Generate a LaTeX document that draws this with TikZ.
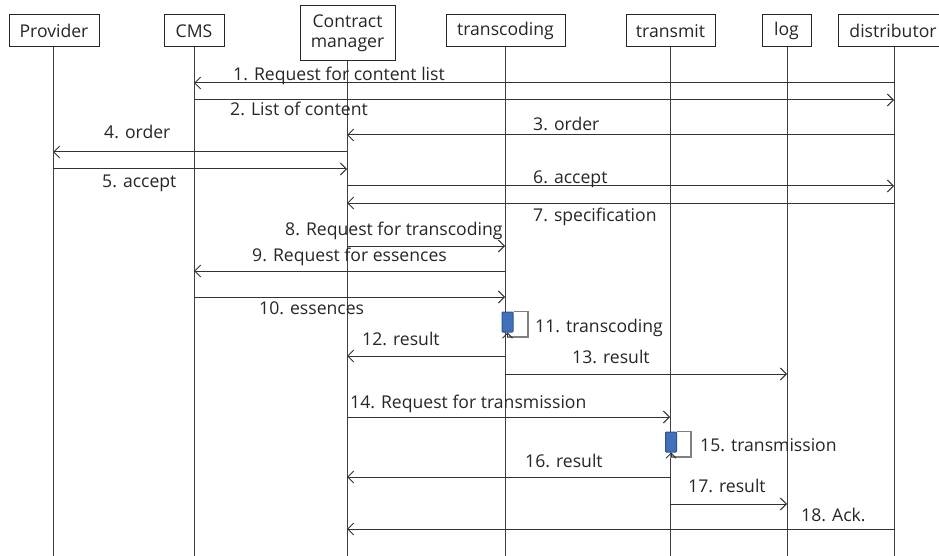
\documentclass[tikz,border=0pt]{standalone}
\usepackage{fontspec}
\setmainfont{Open Sans}
\usetikzlibrary{arrows.meta}
\begin{document}
\begin{tikzpicture}[x=1pt,y=-1pt,
  head/.style={draw=black!85, line width=1pt, fill=white, inner sep=0pt, font=\fontsize{17.6}{20}\selectfont, text=black!85},
  life/.style={line width=1pt, draw=black!75},
  msg/.style={line width=1pt, draw=black!80, -{Straight Barb[length=6pt,width=12pt,line width=1pt]}},
  lbl/.style={anchor=base west, inner sep=0pt, font=\fontsize{17.6}{20}\selectfont, text=black!85},
  actbox/.style={draw={rgb,255:red,47;green,82;blue,143}, fill={rgb,255:red,65;green,113;blue,187}, rounded corners=0.8pt, line width=1pt, inner sep=0pt, minimum width=11, minimum height=20},
  selfloop/.style={draw=black!50, line width=1.5pt},
  selftip/.style={-{Straight Barb[length=5pt,width=10pt,line width=1pt]}}
]
\useasboundingbox (0,0) rectangle (939,556);
\fill[white] (0,0) rectangle (939,556);

% lifeline heads
\node[head, minimum width=90, minimum height=32] (prov) at (54,31) {Provider};
\node[head, minimum width=60, minimum height=32] (cms) at (194,31) {CMS};
\node[head, minimum width=95, minimum height=55, align=center] (cm) at (347.5,33.5) {Contract\\manager};
\node[head, minimum width=119, minimum height=32] (trc) at (505.5,31) {transcoding};
\node[head, minimum width=89, minimum height=32] (trm) at (670.5,31) {transmit};
\node[head, minimum width=49, minimum height=32] (log) at (786.5,31) {log};
\node[head, minimum width=110, minimum height=32] (dist) at (893,31) {distributor};

% lifelines
\coordinate (xprov) at (53,0);
\coordinate (xcms) at (194,0);
\coordinate (xcm) at (347,0);
\coordinate (xtrc) at (505,0);
\coordinate (xtrm) at (670,0);
\coordinate (xlog) at (787,0);
\coordinate (xdist) at (894,0);
\draw[life] (xprov |- prov.south) -- (xprov |- 0,556);
\draw[life] (xcms |- cms.south) -- (xcms |- 0,556);
\draw[life] (xcm |- cm.south) -- (xcm |- 0,556);
\draw[life] (xtrc |- trc.south) -- (xtrc |- 0,556);
\draw[life] (xtrm |- trm.south) -- (xtrm |- 0,556);
\draw[life] (xlog |- log.south) -- (xlog |- 0,556);
\draw[life] (xdist |- dist.south) -- (xdist |- 0,556);

% messages
\draw[msg] (xdist |- 0,83) -- (xcms |- 0,83);
\node[lbl] (l1) at (233,81) {1. Request for content list};
\draw[msg] (xcms |- 0,100) -- (xdist |- 0,100);
\node[lbl] (l2) at (230,116) {2. List of content};
\draw[msg] (xdist |- 0,135) -- (xcm |- 0,135);
\node[lbl] (l3) at (533,131) {3. order};
\draw[msg] (xcm |- 0,152) -- (xprov |- 0,152);
\node[lbl] (l4) at (104,139) {4. order};
\draw[msg] (xprov |- 0,169) -- (xcm |- 0,169);
\node[lbl] (l5) at (102,188) {5. accept};
\draw[msg] (xcm |- 0,186) -- (xdist |- 0,186);
\node[lbl] (l6) at (533,183) {6. accept};
\draw[msg] (xdist |- 0,203) -- (xcm |- 0,203);
\node[lbl] (l7) at (533,222) {7. specification};
\draw[msg] (xcm |- 0,246) -- (xtrc |- 0,246);
\node[lbl] (l8) at (285,235) {8. Request for transcoding};
\draw[msg] (xtrc |- 0,271) -- (xcms |- 0,271);
\node[lbl] (l9) at (252,261) {9. Request for essences};
\draw[msg] (xcms |- 0,297) -- (xtrc |- 0,297);
\node[lbl] (l10) at (259,314) {10. essences};

% activation 11
\node[actbox] (a11) at (507.5,322) {};
\draw[selfloop] (a11.north east) -| (528,337) -| (a11.south);
\draw[selftip, line width=1pt, draw=black!80] (a11.south |- 0,337) -- (a11.south);
\node[lbl] (l11) at (535,332) {11. transcoding};

\draw[msg] (xtrc |- 0,356) -- (xcm |- 0,356);
\node[lbl] (l12) at (362,345) {12. result};
\draw[msg] (xtrc |- 0,374) -- (xlog |- 0,374);
\node[lbl] (l13) at (572,363) {13. result};
\draw[msg] (xcm |- 0,417) -- (xtrm |- 0,417);
\node[lbl] (l14) at (350,408) {14. Request for transmission};

% activation 15
\node[actbox] (a15) at (671,442) {};
\draw[selfloop] (a15.north east) -| (691,457) -| (a15.south);
\draw[selftip, line width=1pt, draw=black!80] (a15.south |- 0,457) -- (a15.south);
\node[lbl] (l15) at (700,451) {15. transmission};

\draw[msg] (xtrm |- 0,477) -- (xcm |- 0,477);
\node[lbl] (l16) at (525,467) {16. result};
\draw[msg] (xtrm |- 0,504) -- (xlog |- 0,504);
\node[lbl] (l17) at (688,492) {17. result};
\draw[msg] (xdist |- 0,529) -- (xcm |- 0,529);
\node[lbl] (l18) at (801,521) {18. Ack.};
\end{tikzpicture}
\end{document}
